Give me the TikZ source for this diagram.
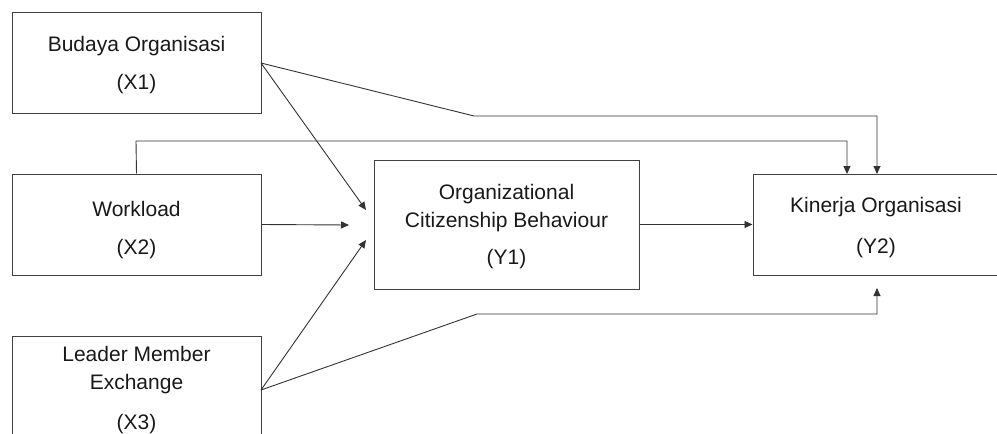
\documentclass[tikz,border=0pt]{standalone}
\usepackage{fontspec}
\setmainfont{Liberation Sans}
\usetikzlibrary{arrows.meta}
\begin{document}
\begin{tikzpicture}[x=1pt,y=-1pt,
  box/.style={draw=black!75,line width=1pt,rectangle,inner sep=0pt},
  lbl/.style={align=center,inner sep=0pt,text=black!90,font=\fontsize{21}{38}\selectfont},
  lbl3/.style={align=center,inner sep=0pt,text=black!90,font=\fontsize{21}{28}\selectfont},
  conn/.style={draw=black!80,line width=0.9pt},
  arr/.style={conn,-{Triangle[length=8pt,width=7pt]}}]
\useasboundingbox (0,0) rectangle (997,434);
% boxes
\node[box,minimum width=249pt,minimum height=101pt] (x1) at (136.5,62.5) {};
\node[box,minimum width=249pt,minimum height=101pt] (x2) at (136.5,224.5) {};
\node[box,minimum width=249pt,minimum height=110pt] (x3) at (136.5,391) {};
\node[box,minimum width=265pt,minimum height=129pt] (y1) at (506.5,224.5) {};
\node[box,minimum width=250pt,minimum height=101pt] (y2) at (878,224.5) {};
% labels
\node[lbl] (x1l) at (136.5,65.5) {Budaya Organisasi\\(X1)};
\node[lbl] (x2l) at (136.5,230) {Workload\\(X2)};
\node[lbl3] (x3l) at (136.5,390.5) {Leader Member\\Exchange\\[12pt](X3)};
\node[lbl3] (y1l) at (506.5,227) {Organizational\\Citizenship Behaviour\\[9pt](Y1)};
\node[lbl,font=\fontsize{21}{41}\selectfont] (y2l) at (876,228) {Kinerja Organisasi\\(Y2)};
% connection points
\coordinate (x1o) at (261,63);
\coordinate (x3o) at (261,390);
\coordinate (t1) at (366,210);
\coordinate (t2) at (349,225);
\coordinate (t3) at (366,240);
\coordinate (b1) at (474,116);
\coordinate (b3) at (477,314);
\coordinate (y2a) at (847,174);
\coordinate (y2b) at (877,174);
\coordinate (y2c) at (877,288);
% connectors
\draw[arr] (x1o) -- (t1);
\draw[arr] (x2.east) -- (t2);
\draw[arr] (x3o) -- (t3);
\draw[arr] (x1o) -- (b1) -- (b1 -| y2b) -- (y2b);
\draw[arr] (x2.north) -- (136,141) -- (847,141) -- (y2a);
\draw[arr] (x3o) -- (b3) -- (b3 -| y2c) -- (y2c);
\draw[arr] (y1.east) -- (y2.west);
\end{tikzpicture}
\end{document}
